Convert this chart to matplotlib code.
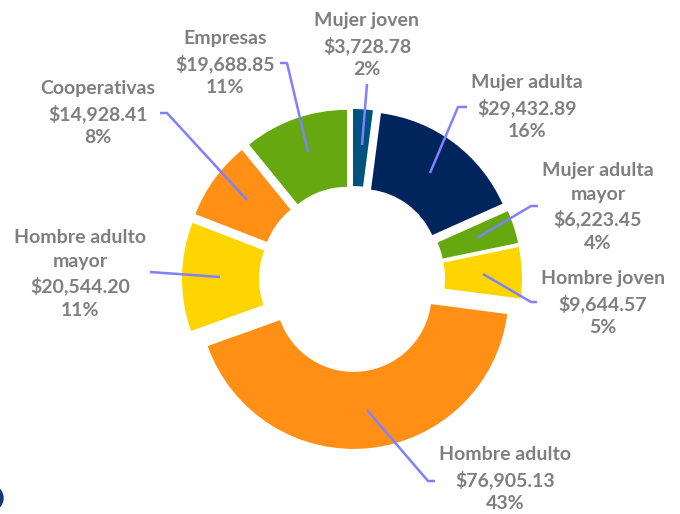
import matplotlib
matplotlib.use("Agg")
import matplotlib.pyplot as plt
from matplotlib.patches import Circle

# datos del grafico (orden horario desde arriba)
categorias = ["Mujer joven", "Mujer adulta", "Mujer adulta\nmayor", "Hombre joven",
              "Hombre adulto", "Hombre adulto\nmayor", "Cooperativas", "Empresas"]
montos = [3728.78, 29432.89, 6223.45, 9644.57, 76905.13, 20544.20, 14928.41, 19688.85]
porcentajes = ["2%", "16%", "4%", "5%", "43%", "11%", "8%", "11%"]
colores = ["#00527F", "#00245C", "#66A80F", "#FFD500",
           "#FF9015", "#FFD500", "#FF9015", "#66A80F"]

# posiciones de etiquetas (pixeles, y desde arriba) y quiebre de la linea guia
pos_etiqueta = [(367, 45), (527, 107), (598, 207), (603, 303),
                (505, 479), (80, 274), (98, 113), (225, 63)]
codo = [(367, 84), (458, 107), (531, 206), (531, 302),
        (428, 481), (150, 272), (167, 113), (287, 63)]
inicio = [None, (467, 107), (538, 206), (537, 302),
          (435, 481), None, (160, 113), (280, 63)]
punta = [(362, 145), (430, 173), (477, 238), (483, 274),
         (367, 410), (220, 277), (247, 200), (308, 152)]

W, H = 680, 514
fig = plt.figure(figsize=(6.8, 5.14), dpi=100)
ax = fig.add_axes([0, 0, 1, 1])

centro = (352, H - 279)
radio = 155
ax.pie(montos, colors=colores, startangle=90, counterclock=False,
       center=centro, radius=radio, explode=[15] * len(montos),
       wedgeprops=dict(width=77, linewidth=0))

ax.set_xlim(0, W)
ax.set_ylim(0, H)
ax.set_aspect("equal")
ax.axis("off")

guia = "#8080FF"
gris = "#7F7F7F"
for i, cat in enumerate(categorias):
    xs = []
    ys = []
    if inicio[i] is not None:
        xs.append(inicio[i][0]); ys.append(H - inicio[i][1])
    xs += [codo[i][0], punta[i][0]]
    ys += [H - codo[i][1], H - punta[i][1]]
    ax.plot(xs, ys, color=guia, lw=1.8, solid_capstyle="butt")
    texto = cat + "\n" + "${:,.2f}".format(montos[i]) + "\n" + porcentajes[i]
    ax.text(pos_etiqueta[i][0], H - pos_etiqueta[i][1], texto, ha="center", va="center",
            fontsize=14, fontweight="bold", family="Lato", color=gris, linespacing=1.45)

# resto de un circulo recortado en la esquina
ax.add_patch(Circle((-10, H - 498), 13, color="#0B3A78", clip_on=True))

fig.savefig("out.png", dpi=100)
